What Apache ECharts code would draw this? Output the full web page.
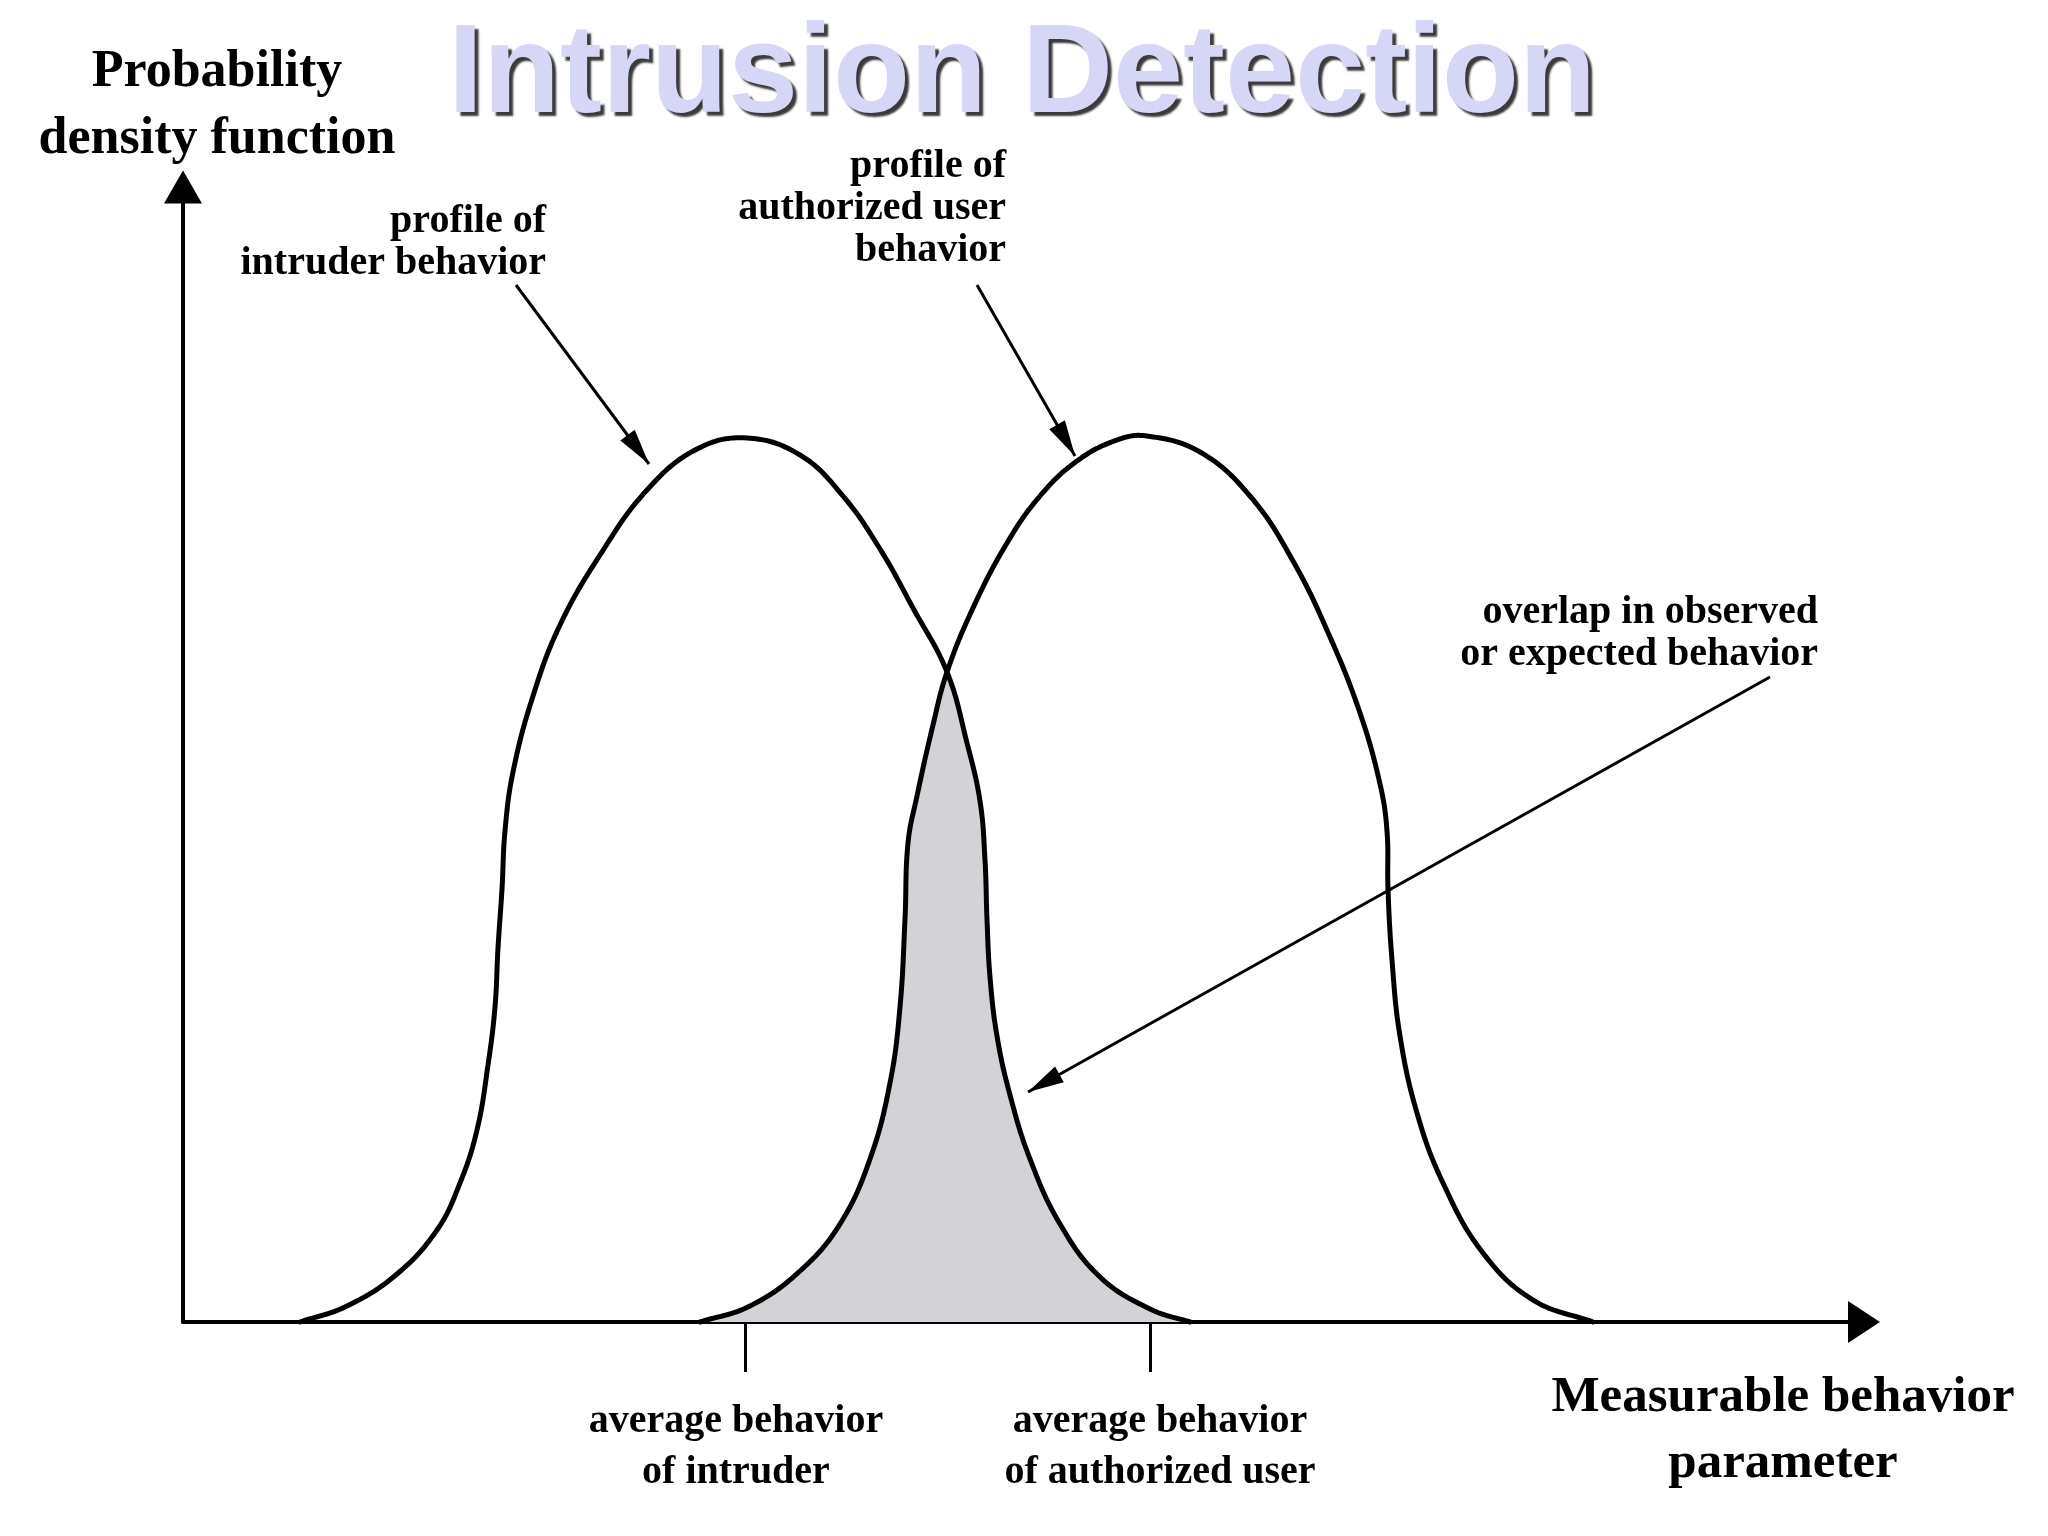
<!DOCTYPE html>
<html>
<head>
<meta charset="utf-8">
<script src="https://cdn.jsdelivr.net/npm/echarts@6/dist/echarts.min.js"></script>
<style>
html,body{margin:0;padding:0;background:#ffffff;}
#chart{width:2048px;height:1536px;}
</style>
</head>
<body>
<div id="chart"></div>
<script>
// ---- data (x: behaviour parameter, y: density) ----
const intruderProfile = [
  [11.7,0],[16.4,1.6],[21.4,4.8],[25.4,9.2],[27.7,13.9],[29.4,19.2],[30.5,25.7],
  [31.2,31.5],[31.5,37.4],[31.9,43.3],[32.2,49.1],[33.0,55.0],[35.0,62.6],[37.7,69.7],
  [41.7,76.7],[46.4,83.2],[51.4,87.3],[56.4,88.4],[61.7,86.7],[66.0,82.6],[69.7,77.3],
  [73.0,71.4],[76.4,65.0],[78.4,57.9],[79.7,52.1],[80.2,46.2],[80.4,40.3],[80.7,34.5],
  [81.4,28.6],[82.7,22.7],[84.7,16.3],[87.7,9.8],[91.7,4.5],[96.7,1.3],[100.7,0]
];
const authorizedProfile = [
  [51.7,0],[56.7,1.6],[61.7,5.1],[65.7,9.8],[68.7,16.3],[70.7,23.9],[71.7,31.5],
  [72.2,40.3],[72.5,47.9],[73.4,52.6],[75.0,59.7],[76.4,65.0],[79.0,71.4],[82.4,77.9],
  [85.7,82.6],[89.4,86.1],[93.4,88.2],[96.4,88.6],[101.7,87.0],[106.7,82.6],[111.0,76.1],
  [114.7,68.5],[117.7,60.9],[119.7,53.8],[120.4,49.1],[120.5,43.3],[120.9,36.2],
  [121.7,28.6],[123.4,20.9],[126.0,13.9],[130.0,6.9],[135.0,2.2],[141.0,0]
];
const crossX = 76.4;                       // where the two profiles cross
const meanValues = [56.2, 96.7];           // average behaviour markers
const meanLabels = [['average behavior', 'of intruder'], ['average behavior', 'of authorized user']];
const pointerStarts = [[33.3,103.7],[79.4,103.7],[158.7,64.5]];
const pointerTips   = [[46.6,85.8],[89.2,86.6],[84.5,23.0]];
const xMax = 168.1, yMax = 113.5;

// overlap region built from the two read profiles
const overlap = authorizedProfile.filter(p => p[0] <= crossX)
  .concat(intruderProfile.filter(p => p[0] > crossX));

const serif = '"Liberation Serif", "Times New Roman", serif';
const SMOOTH = 0.4;

// smooth curve through pixel points (tangent-continuous cubic segments), sampled densely
function smoothSample(pts, fromIdx, toIdx) {
  const n = pts.length, cps = [];
  for (let i = 0; i < n; i++) {
    const p = pts[i], prev = pts[Math.max(0, i - 1)], next = pts[Math.min(n - 1, i + 1)];
    const vx = (next[0] - prev[0]) * SMOOTH, vy = (next[1] - prev[1]) * SMOOTH;
    let d0 = Math.hypot(p[0] - prev[0], p[1] - prev[1]);
    let d1 = Math.hypot(next[0] - p[0], next[1] - p[1]);
    const s = d0 + d1; if (s) { d0 /= s; d1 /= s; }
    cps.push([[p[0] - vx * d0, p[1] - vy * d0], [p[0] + vx * d1, p[1] + vy * d1]]);
  }
  const out = [pts[fromIdx]];
  for (let i = fromIdx; i < toIdx; i++) {
    const a = pts[i], b = cps[i][1], c = cps[i + 1][0], d = pts[i + 1];
    for (let k = 1; k <= 20; k++) {
      const t = k / 20, u = 1 - t;
      out.push([
        u*u*u*a[0] + 3*u*u*t*b[0] + 3*u*t*t*c[0] + t*t*t*d[0],
        u*u*u*a[1] + 3*u*u*t*b[1] + 3*u*t*t*c[1] + t*t*t*d[1]
      ]);
    }
  }
  return out;
}

function curveRenderer(profile) {
  return function (params, api) {
    if (params.dataIndex !== 0) return null;
    const pts = profile.map(p => api.coord(p));
    return {
      type: 'polyline', silent: true,
      shape: {points: smoothSample(pts, 0, pts.length - 1)},
      style: {stroke: '#000', lineWidth: 5, fill: 'none', lineJoin: 'round', lineCap: 'round'}
    };
  };
}

function overlapRenderer(params, api) {
  if (params.dataIndex !== 0) return null;
  const a = authorizedProfile.map(p => api.coord(p));
  const b = intruderProfile.map(p => api.coord(p));
  const ia = authorizedProfile.findIndex(p => p[0] === crossX);
  const ib = intruderProfile.findIndex(p => p[0] === crossX);
  const poly = smoothSample(a, 0, ia).concat(smoothSample(b, ib, b.length - 1).slice(1));
  return {
    type: 'polygon', silent: true,
    shape: {points: poly},
    style: {fill: '#d3d3d7', stroke: 'none'}
  };
}

const chart = echarts.init(document.getElementById('chart'), null, {renderer: 'canvas'});

const pointerData = pointerStarts.map((s, i) => [
  {coord: s, symbol: 'none'},
  {coord: pointerTips[i], symbol: 'triangle', symbolSize: [18, 36], symbolOffset: [0, '50%']}
]);

const labelFont = {fontFamily: serif, fontWeight: 'bold', fontSize: 40, lineHeight: 51, color: '#000'};

chart.setOption({
  backgroundColor: '#ffffff',
  animation: false,
  title: {
    text: 'Intrusion Detection',
    left: 448, top: 14, padding: 0,
    textStyle: {
      fontFamily: '"Liberation Sans", Arial, sans-serif',
      fontWeight: 'bold', fontSize: 126, color: '#d6d6f7',
      textShadowColor: '#3a3a3a', textShadowOffsetX: 4, textShadowOffsetY: 4, textShadowBlur: 2
    }
  },
  grid: {left: 183, right: 184, top: 187, bottom: 214, containLabel: false, outerBoundsMode: 'none'},
  xAxis: {
    type: 'value', min: 0, max: xMax,
    name: 'Measurable behavior\nparameter',
    nameLocation: 'end', nameGap: -81,
    nameTextStyle: {fontFamily: serif, fontWeight: 'bold', fontSize: 51, lineHeight: 66,
      color: '#000', align: 'center', verticalAlign: 'top', padding: [43, 0, 0, 0]},
    axisLine: {show: true, onZero: false, symbol: ['none', 'triangle'], symbolSize: [42, 32],
      lineStyle: {color: '#000', width: 4}},
    axisTick: {show: true, customValues: meanValues, length: 50, inside: false,
      lineStyle: {color: '#000', width: 3}},
    axisLabel: Object.assign({show: true, customValues: meanValues, margin: 74,
      formatter: function (v) {
        let best = 0;
        meanValues.forEach((m, i) => { if (Math.abs(m - v) < Math.abs(meanValues[best] - v)) best = i; });
        const tag = best === 0 ? 'a' : 'b';
        return meanLabels[best].map(t => '{' + tag + '|' + t + '}').join('\n');
      },
      rich: {
        a: Object.assign({padding: [0, 18, 0, 0]}, labelFont),
        b: Object.assign({padding: [0, 0, 0, 20]}, labelFont)
      }}, labelFont),
    splitLine: {show: false}
  },
  yAxis: {
    type: 'value', min: 0, max: yMax,
    name: 'Probability\ndensity function',
    nameLocation: 'end', nameGap: 14,
    nameTextStyle: {fontFamily: serif, fontWeight: 'bold', fontSize: 52, lineHeight: 67,
      color: '#000', padding: [0, 0, 0, 68]},
    axisLine: {show: true, onZero: false, symbol: ['none', 'triangle'], symbolSize: [38, 33],
      lineStyle: {color: '#000', width: 4}},
    axisTick: {show: false},
    axisLabel: {show: false},
    splitLine: {show: false}
  },
  series: [
    {
      name: 'overlap in observed or expected behavior', type: 'custom', data: overlap,
      renderItem: overlapRenderer, z: 1, silent: true, clip: false
    },
    {
      name: 'profile of intruder behavior', type: 'custom', data: intruderProfile,
      renderItem: curveRenderer(intruderProfile), z: 3, silent: true, clip: false
    },
    {
      name: 'profile of authorized user behavior', type: 'custom', data: authorizedProfile,
      renderItem: curveRenderer(authorizedProfile), z: 3, silent: true, clip: false,
      markLine: {
        silent: true, animation: false,
        lineStyle: {color: '#000', width: 3, type: 'solid'},
        label: {show: false},
        emphasis: {disabled: true},
        data: pointerData
      }
    }
  ],
  graphic: [
    {type: 'text', x: 546, y: 201, silent: true,
      style: {text: 'profile of\nintruder behavior', font: 'bold 40px ' + serif,
        lineHeight: 42, textAlign: 'right', textVerticalAlign: 'top', fill: '#000'}},
    {type: 'text', x: 1006, y: 146, silent: true,
      style: {text: 'profile of\nauthorized user\nbehavior', font: 'bold 40px ' + serif,
        lineHeight: 42, textAlign: 'right', textVerticalAlign: 'top', fill: '#000'}},
    {type: 'text', x: 1818, y: 592, silent: true,
      style: {text: 'overlap in observed\nor expected behavior', font: 'bold 40px ' + serif,
        lineHeight: 42, textAlign: 'right', textVerticalAlign: 'top', fill: '#000'}}
  ]
});
</script>
</body>
</html>
